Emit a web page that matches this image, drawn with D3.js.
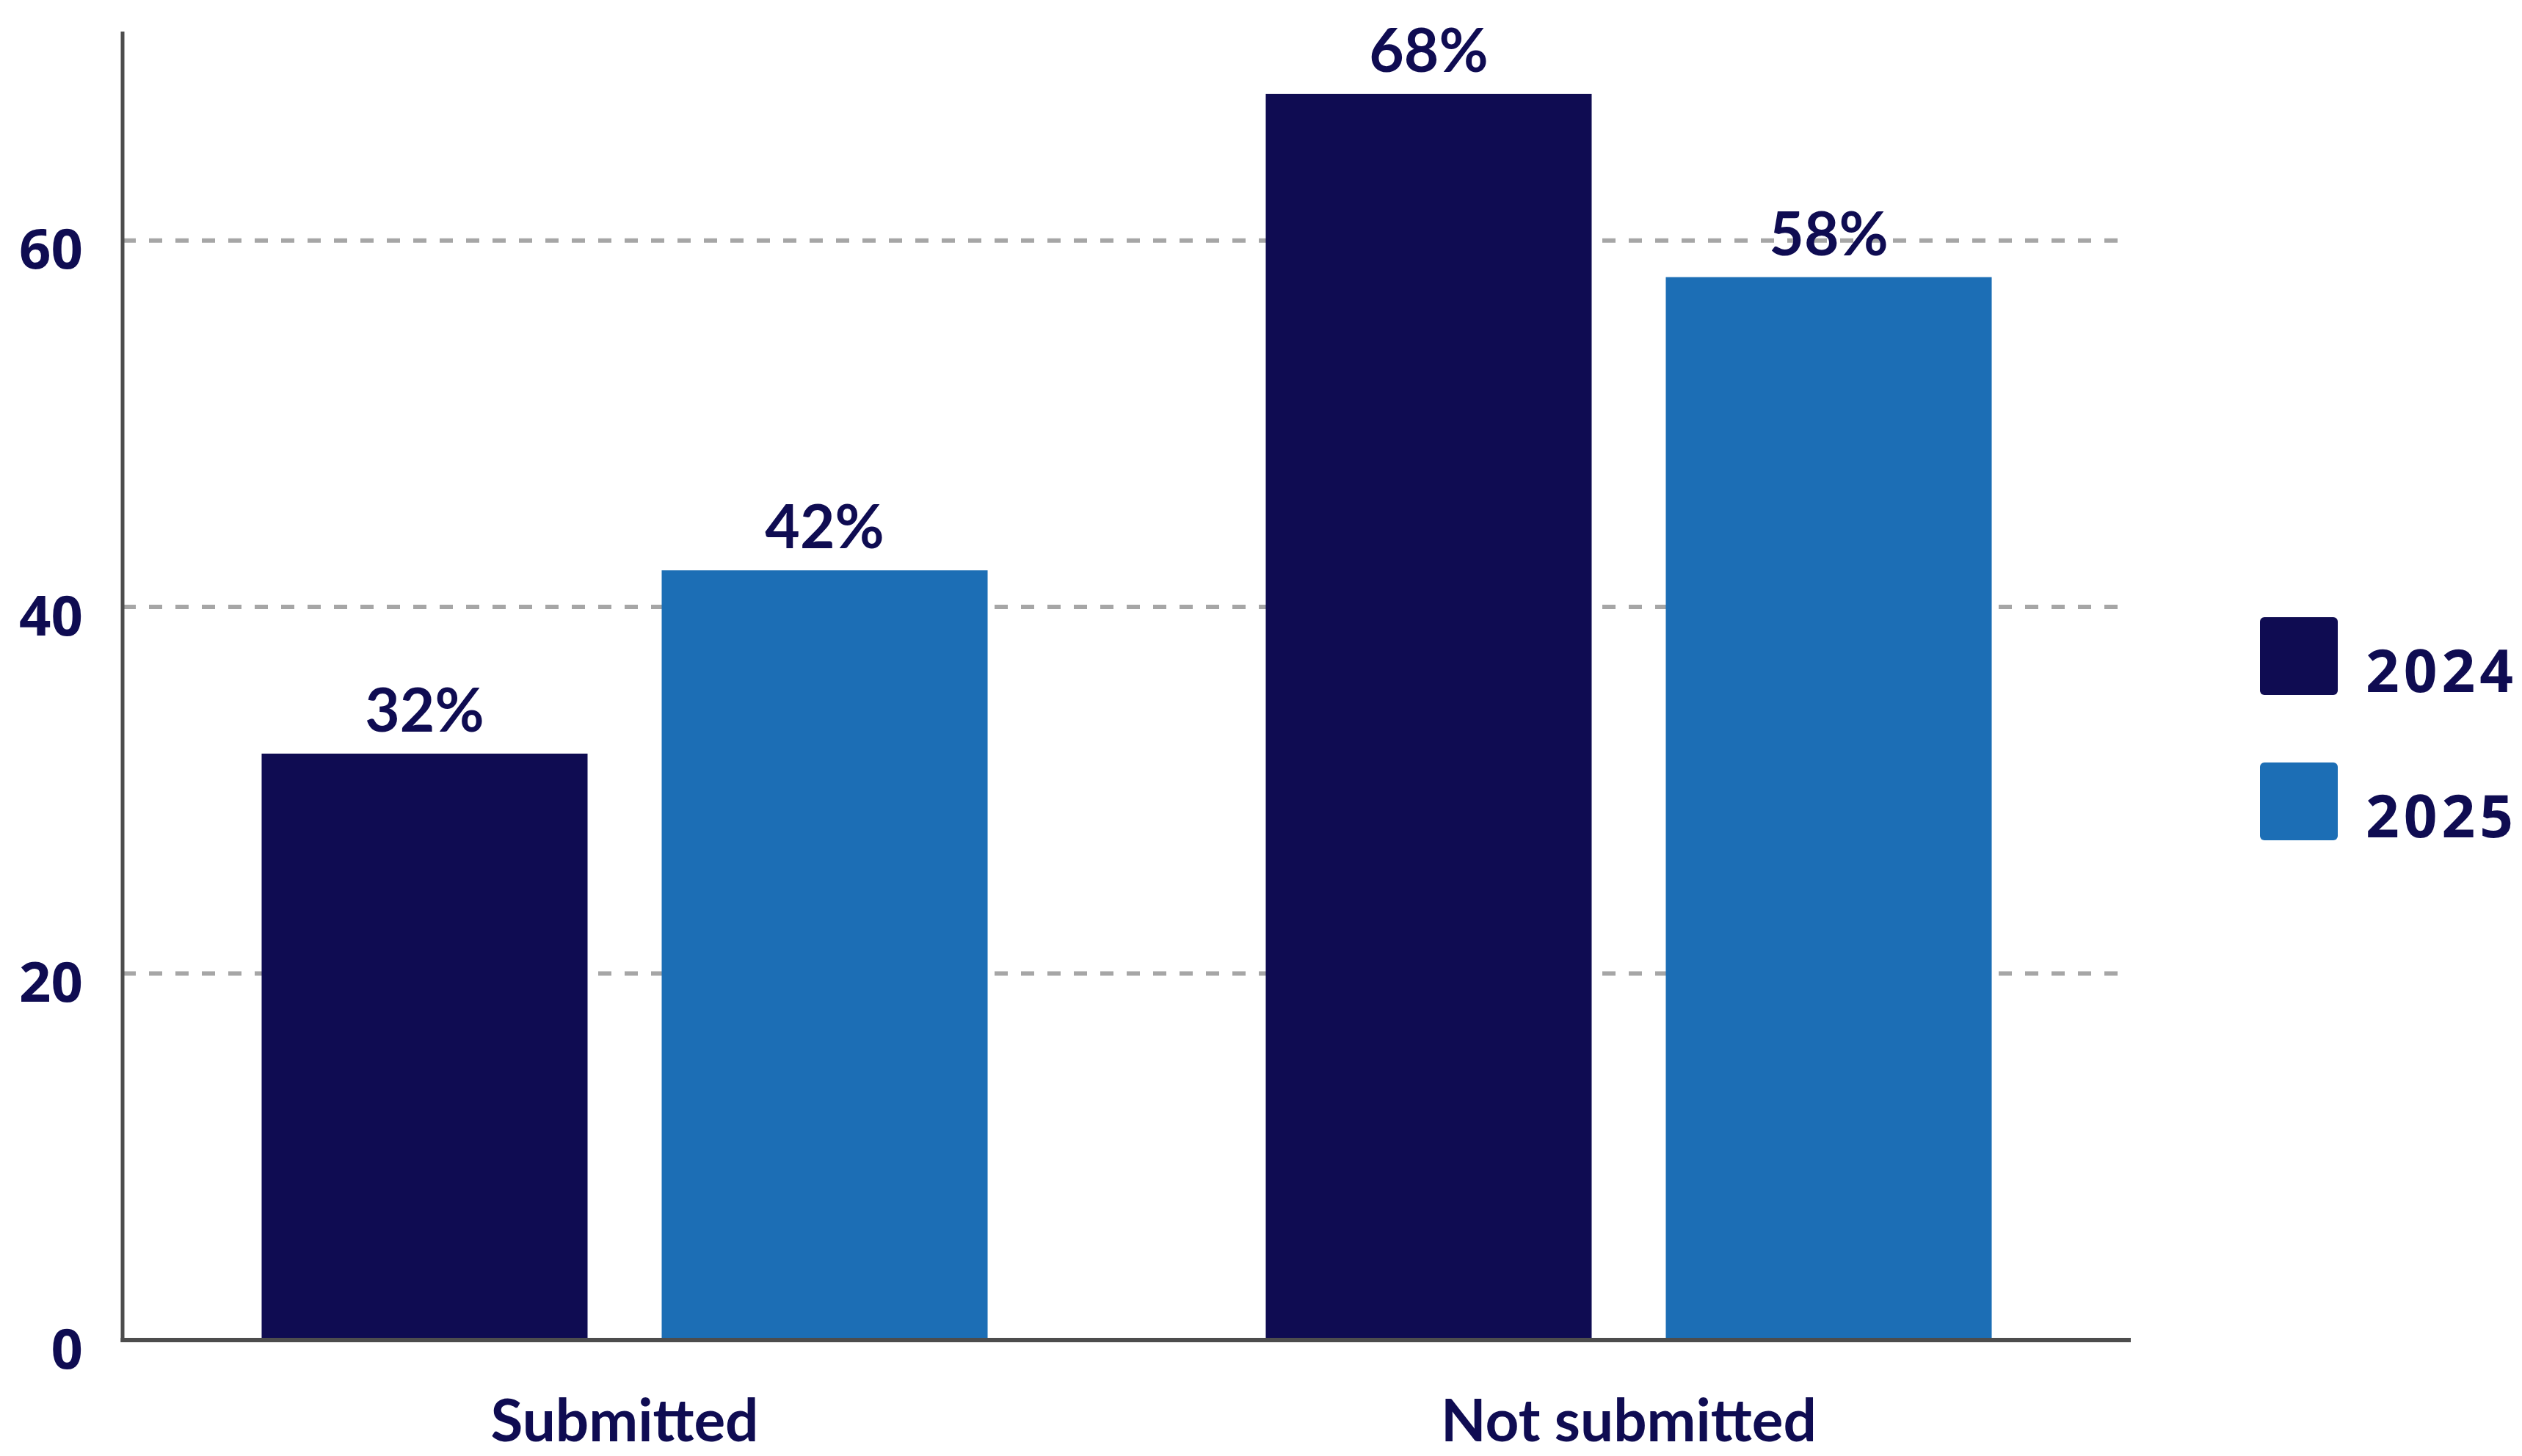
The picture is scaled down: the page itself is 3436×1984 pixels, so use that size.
<!DOCTYPE html>
<html>
<head>
<meta charset="utf-8">
<script src="https://cdn.jsdelivr.net/npm/d3@7"></script>
<style>
  html, body { margin: 0; padding: 0; background: #ffffff; }
  svg { display: block; }
</style>
</head>
<body>
<script>
const categories = ["Submitted", "Not submitted"];
const seriesNames = ["2024", "2025"];
const values2024 = [32, 68];
const values2025 = [42, 58];
const valueLabels2024 = ["32%", "68%"];
const valueLabels2025 = ["42%", "58%"];
const yTickValues = [0, 20, 40, 60];
const gridValues = [20, 40, 60];
const seriesColors = ["#0f0c52", "#1c6eb5"];

const W = 3436, H = 1984;
const plotLeft = 167, plotRight = 2903, plotTop = 43, plotBottom = 1826;
const textColor = "#0f0c52";

const svg = d3.select("body").append("svg")
  .attr("width", W).attr("height", H)
  .attr("viewBox", `0 0 ${W} ${H}`);

const y = d3.scaleLinear().domain([0, 68 * 1.05]).range([plotBottom, plotTop]);
const x0 = d3.scaleBand().domain(categories).range([plotLeft, plotRight])
  .paddingInner(0.277).paddingOuter(0.1385);
const x1 = d3.scaleBand().domain(seriesNames).range([0, x0.bandwidth()])
  .paddingInner(0.1853);
const color = d3.scaleOrdinal().domain(seriesNames).range(seriesColors);

// gridlines
svg.append("g").selectAll("line").data(gridValues).join("line")
  .attr("x1", plotLeft).attr("x2", plotRight)
  .attr("y1", d => y(d)).attr("y2", d => y(d))
  .attr("stroke", "#a6a6a6").attr("stroke-width", 6)
  .attr("stroke-dasharray", "18,18");

// data rows
const rows = categories.map((c, i) => ({
  category: c,
  items: [
    { series: seriesNames[0], value: values2024[i], label: valueLabels2024[i] },
    { series: seriesNames[1], value: values2025[i], label: valueLabels2025[i] }
  ]
}));

const groups = svg.append("g").selectAll("g").data(rows).join("g")
  .attr("transform", d => `translate(${x0(d.category)},0)`);

groups.selectAll("rect").data(d => d.items).join("rect")
  .attr("x", d => x1(d.series))
  .attr("width", x1.bandwidth())
  .attr("y", d => y(d.value))
  .attr("height", d => y(0) - y(d.value))
  .attr("fill", d => color(d.series));

groups.selectAll("text").data(d => d.items).join("text")
  .attr("x", d => x1(d.series) + x1.bandwidth() / 2)
  .attr("y", d => y(d.value) - 30)
  .attr("text-anchor", "middle")
  .attr("font-family", "Lato, sans-serif")
  .attr("font-weight", 700)
  .attr("font-size", 82)
  .attr("fill", textColor)
  .text(d => d.label);

// y axis
const yAxis = svg.append("g")
  .attr("transform", `translate(${plotLeft},0)`)
  .call(d3.axisLeft(y).tickValues(yTickValues).tickSize(0).tickPadding(54).tickFormat(d3.format("d")));
yAxis.select(".domain").attr("stroke", "#4d4d4d").attr("stroke-width", 5)
  .attr("d", `M0,${plotTop}V${plotBottom + 3}`);
yAxis.selectAll(".tick text")
  .attr("font-family", "'Noto Sans', sans-serif")
  .attr("font-weight", 700)
  .attr("font-size", 76)
  .attr("fill", textColor)
  .attr("dy", "0.5em");

// x axis
const xAxis = svg.append("g")
  .attr("transform", `translate(0,${plotBottom})`)
  .call(d3.axisBottom(x0).tickSize(0));
xAxis.select(".domain").attr("stroke", "#4d4d4d").attr("stroke-width", 6)
  .attr("d", `M${plotLeft - 2.5},0H${plotRight}`);
xAxis.selectAll(".tick text")
  .attr("font-family", "Lato, sans-serif")
  .attr("font-weight", 700)
  .attr("font-size", 80)
  .attr("fill", textColor)
  .attr("y", 138)
  .attr("dy", 0);

// legend
const legend = svg.append("g").selectAll("g").data(seriesNames).join("g")
  .attr("transform", (d, i) => `translate(3079,${841 + i * 198})`);
legend.append("rect")
  .attr("width", 106).attr("height", 106).attr("rx", 6)
  .attr("fill", d => color(d));
legend.append("text")
  .attr("x", 144).attr("y", 102)
  .attr("font-family", "'Noto Sans', sans-serif")
  .attr("font-weight", 700)
  .attr("font-size", 80)
  .attr("letter-spacing", 6)
  .attr("fill", textColor)
  .text(d => d);
</script>
</body>
</html>
